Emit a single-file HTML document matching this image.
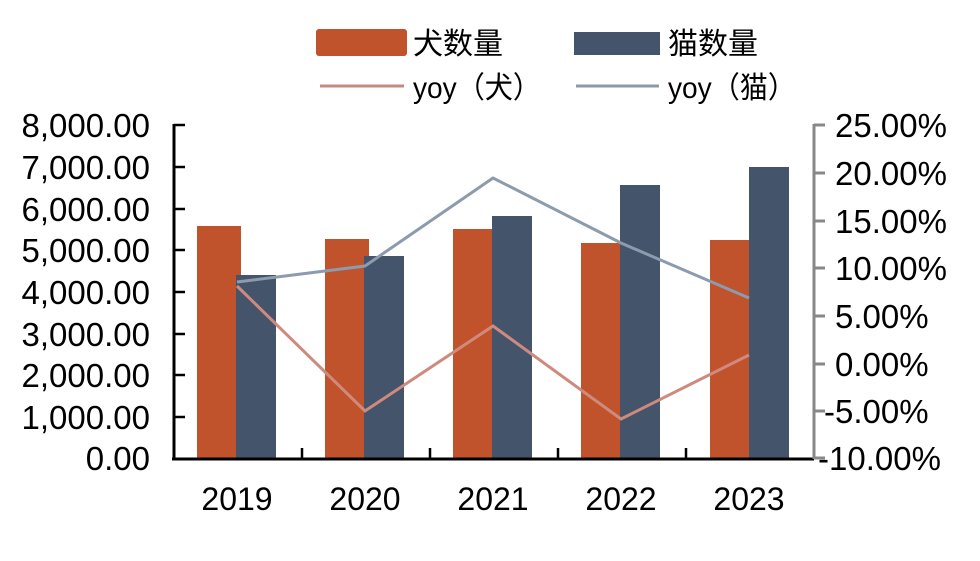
<!DOCTYPE html>
<html><head><meta charset="utf-8"><style>
html,body{margin:0;padding:0;background:#fff;}
svg text{font-family:"Liberation Sans","Noto Sans CJK SC",sans-serif;fill:#000;}
</style></head><body>
<svg width="980" height="556" xmlns="http://www.w3.org/2000/svg">
<!-- legend -->
<rect x="316" y="29" width="91" height="27" rx="3" fill="#C0532B"/>
<text x="413" y="54" font-size="30">犬数量</text>
<rect x="574" y="32" width="86" height="23" fill="#44546A"/>
<text x="668" y="54" font-size="30">猫数量</text>
<line x1="320" y1="86" x2="404" y2="86" stroke="#C48A80" stroke-width="3"/>
<text x="413" y="98" font-size="30" textLength="128" lengthAdjust="spacingAndGlyphs">yoy（犬）</text>
<line x1="576" y1="86" x2="659" y2="86" stroke="#8C99A8" stroke-width="3"/>
<text x="668" y="98" font-size="30" textLength="128" lengthAdjust="spacingAndGlyphs">yoy（猫）</text>
<!-- bars -->
<g fill="#C0532B">
<rect x="197" y="226" width="44" height="233"/>
<rect x="325" y="239" width="44" height="220"/>
<rect x="453" y="229" width="44" height="230"/>
<rect x="581" y="243" width="44" height="216"/>
<rect x="710" y="240" width="44" height="219"/>
</g>
<g fill="#44546A">
<rect x="236" y="275" width="40" height="184"/>
<rect x="364" y="256" width="40" height="203"/>
<rect x="492" y="216" width="40" height="243"/>
<rect x="620" y="185" width="40" height="274"/>
<rect x="749" y="167" width="40" height="292"/>
</g>
<!-- lines -->
<polyline points="237,286 365,411 493,326 621,419 749,355" fill="none" stroke="#D08A7D" stroke-width="3"/>
<polyline points="237,282 365,266 493,178 621,243 749,298" fill="none" stroke="#8C9BAE" stroke-width="3"/>
<!-- left axis -->
<g stroke="#000" stroke-width="3">
<line x1="174" y1="124" x2="174" y2="459"/>
<line x1="172" y1="459" x2="814" y2="459"/>
</g>
<g stroke="#000" stroke-width="2.5">
<line x1="174" y1="125" x2="185" y2="125"/>
<line x1="174" y1="167" x2="185" y2="167"/>
<line x1="174" y1="209" x2="185" y2="209"/>
<line x1="174" y1="250" x2="185" y2="250"/>
<line x1="174" y1="292" x2="185" y2="292"/>
<line x1="174" y1="334" x2="185" y2="334"/>
<line x1="174" y1="375" x2="185" y2="375"/>
<line x1="174" y1="417" x2="185" y2="417"/>
<line x1="302" y1="448" x2="302" y2="459"/>
<line x1="430" y1="448" x2="430" y2="459"/>
<line x1="558" y1="448" x2="558" y2="459"/>
<line x1="686" y1="448" x2="686" y2="459"/>
</g>
<g font-size="33" text-anchor="end">
<text x="150" y="137">8,000.00</text>
<text x="150" y="179">7,000.00</text>
<text x="150" y="221">6,000.00</text>
<text x="150" y="262">5,000.00</text>
<text x="150" y="304">4,000.00</text>
<text x="150" y="346">3,000.00</text>
<text x="150" y="387">2,000.00</text>
<text x="150" y="429">1,000.00</text>
<text x="150" y="470">0.00</text>
</g>
<!-- right axis -->
<g stroke="#888" stroke-width="3">
<line x1="814" y1="124" x2="814" y2="459"/>
<line x1="814" y1="125" x2="825" y2="125"/>
<line x1="814" y1="173" x2="825" y2="173"/>
<line x1="814" y1="221" x2="825" y2="221"/>
<line x1="814" y1="268" x2="825" y2="268"/>
<line x1="814" y1="316" x2="825" y2="316"/>
<line x1="814" y1="364" x2="825" y2="364"/>
<line x1="814" y1="411" x2="825" y2="411"/>
<line x1="814" y1="458" x2="825" y2="458"/>
</g>
<g font-size="33">
<text x="835" y="137">25.00%</text>
<text x="835" y="185">20.00%</text>
<text x="835" y="233">15.00%</text>
<text x="835" y="280">10.00%</text>
<text x="835" y="328">5.00%</text>
<text x="835" y="376">0.00%</text>
<text x="824" y="423">-5.00%</text>
<text x="818" y="470">-10.00%</text>
</g>
<g font-size="32" text-anchor="middle">
<text x="237" y="510">2019</text>
<text x="365" y="510">2020</text>
<text x="493" y="510">2021</text>
<text x="621" y="510">2022</text>
<text x="749" y="510">2023</text>
</g>
</svg>
</body></html>
